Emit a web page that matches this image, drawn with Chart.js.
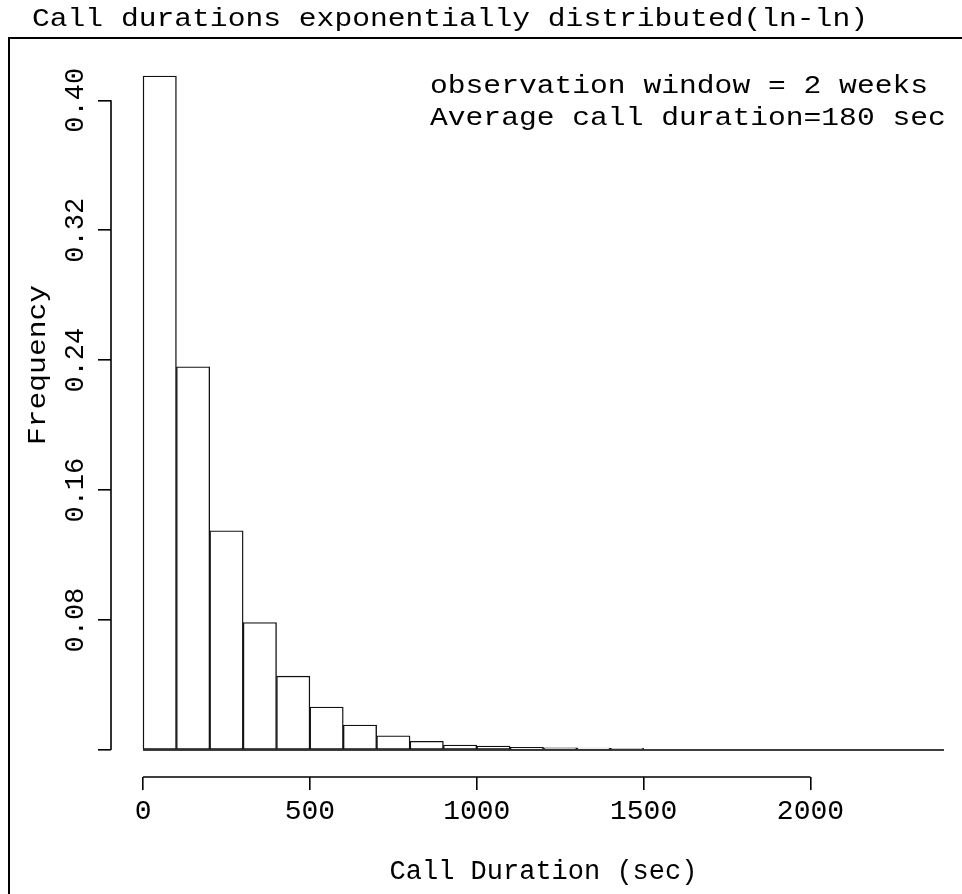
<!DOCTYPE html>
<html>
<head>
<meta charset="utf-8">
<script src="https://cdn.jsdelivr.net/npm/chart.js@4.4.0/dist/chart.umd.min.js"></script>
<style>
  html, body { margin: 0; padding: 0; background: #fff; overflow: hidden; }
  #wrap { width: 962px; height: 894px; overflow: hidden; }
</style>
</head>
<body>
<div id="wrap"><canvas id="histChart" width="976" height="894"></canvas></div>
<script>
// histogram bins (left edges, sec) and relative frequencies
const binStarts = [0, 100, 200, 300, 400, 500, 600, 700, 800, 900, 1000, 1100,
                   1200, 1300, 1400, 1500, 1600, 1700, 1800, 1900, 2000, 2100, 2200, 2300];
const binWidth = 100;
const frequencies = [0.415, 0.236, 0.135, 0.0785, 0.0455, 0.0265, 0.0154, 0.0088,
                     0.0054, 0.0031, 0.0025, 0.0016, 0.0014, 0.0012, 0.001, 0,
                     0, 0, 0, 0, 0, 0, 0, 0];

const xTicks = [0, 500, 1000, 1500, 2000];
const yTicks = [0, 0.08, 0.16, 0.24, 0.32, 0.40];
const yTickLabels = ['', '0.08', '0.16', '0.24', '0.32', '0.40'];

const chartTitle = 'Call durations exponentially distributed(ln-ln)';
const noteLines = ['observation window = 2 weeks', 'Average call duration=180 sec'];
const xLabel = 'Call Duration (sec)';
const yLabel = 'Frequency';

// R style axis ranges: data range widened by 4% on each side
const xStart = binStarts[0];
const xEnd = binStarts[binStarts.length - 1] + binWidth;
const xPad = (xEnd - xStart) * 0.04;
const yTop = Math.max(...frequencies);
const yPad = yTop * 0.04;

const MONO = "'Liberation Mono', 'DejaVu Sans Mono', monospace";

function stretchedText(ctx, text, x, y, size, rot) {
  ctx.save();
  ctx.translate(x, y);
  if (rot) ctx.rotate(rot);
  ctx.scale(1.14, 1);
  ctx.font = size + 'px ' + MONO;
  ctx.fillText(text, 0, 0);
  ctx.restore();
}

const rFrame = {
  id: 'rFrame',
  beforeDraw(chart) {
    const ctx = chart.ctx;
    ctx.save();
    ctx.fillStyle = '#fff';
    ctx.fillRect(0, 0, chart.width, chart.height);
    ctx.restore();
  },
  afterDraw(chart) {
    const ctx = chart.ctx;
    const xs = chart.scales.x, ys = chart.scales.y;
    const area = chart.chartArea;
    ctx.save();
    ctx.strokeStyle = '#000';
    ctx.fillStyle = '#000';

    // figure box
    ctx.lineWidth = 2;
    ctx.strokeRect(9, 38, 1200, 1200);

    ctx.lineWidth = 1.6;
    ctx.beginPath();
    // x axis line (first to last tick)
    ctx.moveTo(xs.getPixelForValue(xTicks[0]), area.bottom);
    ctx.lineTo(xs.getPixelForValue(xTicks[xTicks.length - 1]), area.bottom);
    // y axis line
    ctx.moveTo(area.left, ys.getPixelForValue(yTicks[0]));
    ctx.lineTo(area.left, ys.getPixelForValue(yTicks[yTicks.length - 1]));
    // histogram baseline
    ctx.moveTo(xs.getPixelForValue(xStart), ys.getPixelForValue(0));
    ctx.lineTo(xs.getPixelForValue(xEnd), ys.getPixelForValue(0));
    ctx.stroke();

    ctx.textBaseline = 'middle';
    ctx.textAlign = 'left';
    stretchedText(ctx, chartTitle, 32, 19, 26);
    stretchedText(ctx, noteLines[0], 430, 86, 26);
    stretchedText(ctx, noteLines[1], 430, 118, 26);
    ctx.textAlign = 'center';
    stretchedText(ctx, yLabel, 38, 365, 26, -Math.PI / 2);
    ctx.restore();
  }
};

new Chart(document.getElementById('histChart'), {
  type: 'bar',
  data: {
    datasets: [{
      data: binStarts.map((b, i) => ({ x: b + binWidth / 2, y: frequencies[i] })),
      backgroundColor: '#fff',
      borderColor: '#111',
      borderWidth: 1.4,
      borderSkipped: false,
      barPercentage: 1,
      categoryPercentage: 1
    }]
  },
  options: {
    responsive: false,
    animation: false,
    layout: { padding: { top: 49, right: 0, bottom: 0, left: 0 } },
    plugins: { legend: { display: false }, tooltip: { enabled: false } },
    scales: {
      x: {
        type: 'linear',
        offset: false,
        bounds: 'data',
        min: xStart - xPad,
        max: xEnd + xPad,
        afterBuildTicks: s => { s.ticks = xTicks.map(v => ({ value: v })); },
        afterFit: s => { s.height = 117; },
        border: { display: false },
        grid: { offset: false, drawOnChartArea: false, drawTicks: true, tickLength: 13, color: '#000', lineWidth: 1.6 },
        ticks: {
          autoSkip: false, maxRotation: 0, padding: 5, color: '#000',
          font: { family: MONO, size: 28 },
          callback: v => String(v)
        },
        title: {
          display: true, text: xLabel, color: '#000',
          font: { family: MONO, size: 27 },
          padding: { top: 6, bottom: 6 }
        }
      },
      y: {
        type: 'linear',
        bounds: 'data',
        min: -yPad,
        max: yTop + yPad,
        afterBuildTicks: s => { s.ticks = yTicks.map(v => ({ value: v })); },
        afterFit: s => { s.width = 111; },
        border: { display: false },
        grid: { drawOnChartArea: false, drawTicks: true, tickLength: 13, color: '#000', lineWidth: 1.6 },
        ticks: {
          autoSkip: false, minRotation: 90, maxRotation: 90, crossAlign: 'center', padding: -10,
          color: '#000', font: { family: MONO, size: 27 },
          callback: (v, i) => yTickLabels[i]
        }
      }
    }
  },
  plugins: [rFrame]
});
</script>
</body>
</html>
